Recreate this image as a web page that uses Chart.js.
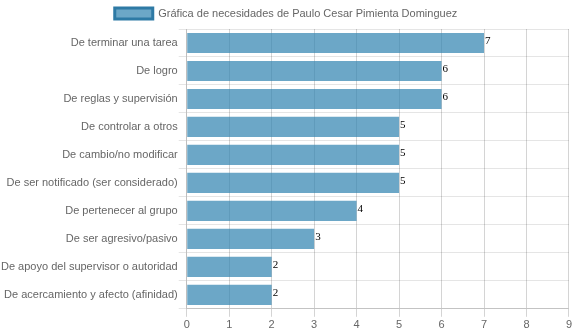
<!DOCTYPE html>
<html>
<head>
<meta charset="utf-8">
<script src="https://cdn.jsdelivr.net/npm/chart.js@4"></script>
<style>
    html, body { margin: 0; padding: 0; background: #fff; }
    #wrap { width: 574px; height: 334px; }
</style>
</head>
<body>
<div id="wrap"><canvas id="necesidadesChart"></canvas></div>
<script>
// Datos de la gráfica
const categorias = [
    'De terminar una tarea',
    'De logro',
    'De reglas y supervisión',
    'De controlar a otros',
    'De cambio/no modificar',
    'De ser notificado (ser considerado)',
    'De pertenecer al grupo',
    'De ser agresivo/pasivo',
    'De apoyo del supervisor o autoridad',
    'De acercamiento y afecto (afinidad)'
];
const valores = [7, 6, 6, 5, 5, 5, 4, 3, 2, 2];
const etiquetaSerie = 'Gráfica de necesidades de Paulo Cesar Pimienta Dominguez';

Chart.defaults.font.family = '"Liberation Sans", Arial, sans-serif';
Chart.defaults.font.size = 11;
Chart.defaults.color = '#666';

// Escribe el valor al final de cada barra
const valorPlugin = {
    id: 'valorPlugin',
    afterDatasetsDraw(chart) {
        const ctx = chart.ctx;
        ctx.save();
        ctx.font = '11px "Liberation Serif", serif';
        ctx.fillStyle = '#000';
        ctx.textAlign = 'left';
        ctx.textBaseline = 'alphabetic';
        chart.getDatasetMeta(0).data.forEach(function (bar, i) {
            ctx.fillText(valores[i], bar.x + 1, bar.y + 1);
        });
        ctx.restore();
    }
};

const ctx = document.getElementById('necesidadesChart').getContext('2d');
new Chart(ctx, {
    type: 'bar',
    data: {
        labels: categorias,
        datasets: [{
            label: etiquetaSerie,
            data: valores,
            backgroundColor: 'rgba(46, 130, 175, 0.7)',
            borderColor: 'rgb(46, 122, 165)',
            borderWidth: 3,
            borderSkipped: true
        }]
    },
    options: {
        indexAxis: 'y',
        responsive: true,
        maintainAspectRatio: false,
        animation: false,
        layout: { padding: { right: 2 } },
        plugins: {
            legend: {
                position: 'top',
                labels: { boxWidth: 38, boxHeight: 11, padding: 8 }
            },
            tooltip: { enabled: false }
        },
        scales: {
            x: {
                min: 0,
                max: 9,
                ticks: { stepSize: 1, padding: 2 },
                grid: { color: 'rgba(0, 0, 0, 0.17)' },
                border: { color: 'rgba(0, 0, 0, 0.15)' }
            },
            y: {
                ticks: { padding: 1 },
                grid: { offset: true }
            }
        }
    },
    plugins: [valorPlugin]
});
</script>
</body>
</html>
